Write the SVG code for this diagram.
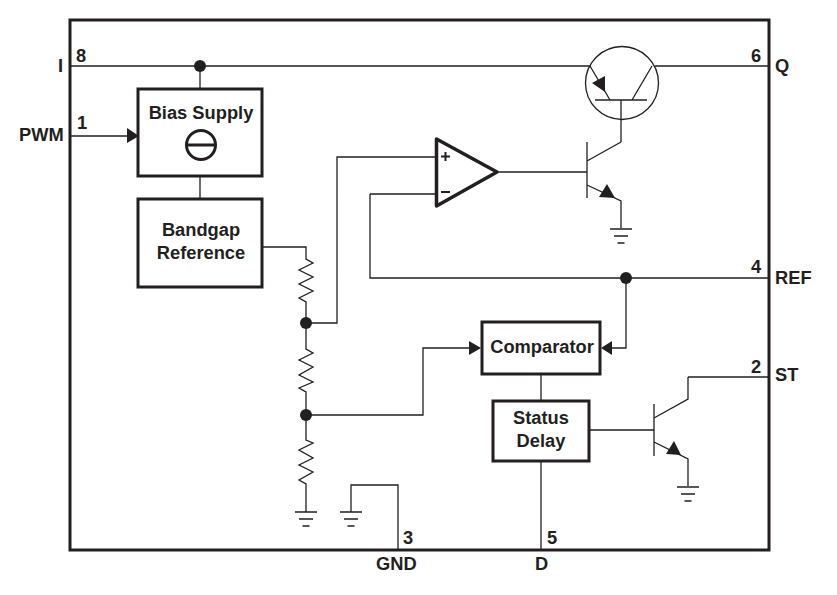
<svg xmlns="http://www.w3.org/2000/svg" width="837" height="595" viewBox="0 0 837 595">
<style>
text{font-family:"Liberation Sans",Arial,sans-serif;font-weight:bold;font-size:18.300px;fill:#231f20}
.m{text-anchor:middle}
.w{fill:none;stroke:#231f20;stroke-width:1.3}
.b{fill:#fff;stroke:#231f20;stroke-width:3}
.d{fill:#231f20;stroke:none}
</style>
<defs>
<g id="gnd" class="w"><path d="M-11 0H11M-7 7H7M-3.500 14H3.500"/></g>
</defs>
<rect width="837" height="595" fill="#fff"/>
<rect id="frame" x="70" y="20" width="699" height="530" fill="none" stroke="#231f20" stroke-width="3"/>
<g id="connectors">
<path class="w" d="M70 66H591M655 66H769"/>
<path class="w" d="M200 66V88M70 136H128M200 176V199"/>
<path class="w" d="M248 247H306V259L313 263 299 270 313 277 299 284 313 291 299 298 306 302V349L313 353 299 360 313 367 299 375 313 382 299 388 306 392V440L313 443 299 450 313 458 299 465 313 472 299 480 306 484V512"/>
<path class="w" d="M306 323H337V157H435M370 194H435M370 194V278H769"/>
<path class="w" d="M306 415H423V348H470M626 278V348H611"/>
<path class="w" d="M498 172H587"/>
<path class="w" d="M541 375V401M541 461V550M590 430H654"/>
<path class="w" d="M621 112V142"/>
<path class="w" d="M351 512V485H398V550"/>
<path class="w" d="M688 377H769M688 377V399L654 418"/>
<g class="d">
<circle cx="200" cy="66" r="6"/><circle cx="306" cy="323" r="6"/><circle cx="306" cy="415" r="6"/><circle cx="626" cy="278" r="6"/>
<path d="M127 128L139 136 127 143Z"/><path d="M469 341L481 348 469 355Z"/><path d="M612 341L601 348 612 355Z"/>
</g>
</g>
<g id="q1">
<circle class="w" cx="622" cy="83" r="36.500"/>
<path class="w" d="M595 100H647M590 66L610 100M632 100L652 66M621 100V112"/>
<path class="d" d="M592 83L605 76V92Z"/>
</g>
<g id="q2">
<path class="w" d="M587 142V198M587 161L621 142M587 185L621 201V228"/>
<path class="d" d="M599 197L607 184 615 198Z"/>
<use href="#gnd" x="621" y="229"/>
</g>
<g id="q3">
<path class="w" d="M654 404V456M654 442L688 459V486"/>
<path class="d" d="M666 454L674 441 681 455Z"/>
<use href="#gnd" x="688" y="487"/>
</g>
<g id="gnd1"><use href="#gnd" x="306" y="512"/></g>
<g id="gnd2"><use href="#gnd" x="351" y="512"/></g>
<g id="opamp">
<path d="M436.500 139V206L497 172Z" fill="#fff" stroke="#231f20" stroke-width="3.500" stroke-linejoin="round"/>
<path d="M441 156.500H450M445.500 152V161M441 192H450" stroke="#231f20" stroke-width="2" fill="none"/>
</g>
<g id="bias">
<rect class="b" x="138" y="89" width="124" height="87"/>
<text class="m" x="201" y="119">Bias Supply</text>
<circle cx="201" cy="145" r="14.500" fill="none" stroke="#231f20" stroke-width="3"/>
<path d="M186 145H216" stroke="#231f20" stroke-width="3"/>
</g>
<g id="bandgap">
<rect class="b" x="138" y="199" width="124" height="88"/>
<text class="m" x="201" y="236">Bandgap</text>
<text class="m" x="201" y="259">Reference</text>
</g>
<g id="comparator">
<rect class="b" x="482" y="322" width="118" height="52"/>
<text class="m" x="542" y="353">Comparator</text>
</g>
<g id="delay">
<rect class="b" x="493" y="401" width="96" height="60"/>
<text class="m" x="541" y="424">Status</text>
<text class="m" x="541" y="447">Delay</text>
</g>
<g id="pins">
<text x="76" y="62">8</text><text x="58" y="72">I</text>
<text x="77" y="129">1</text><text x="19" y="141">PWM</text>
<text x="751" y="62">6</text><text x="775" y="72">Q</text>
<text x="751" y="273">4</text><text x="775" y="284">REF</text>
<text x="751" y="373">2</text><text x="775" y="381">ST</text>
<text x="403" y="544">3</text><text x="376" y="570">GND</text>
<text x="547" y="544">5</text><text x="535" y="570">D</text>
</g>
</svg>
